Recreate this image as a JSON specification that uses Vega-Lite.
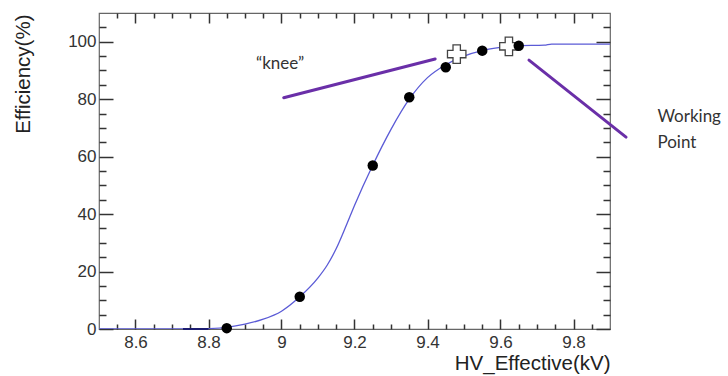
{
  "$schema": "https://vega.github.io/schema/vega-lite/v6.json",
  "width": 511,
  "height": 316,
  "autosize": "none",
  "padding": {"left": 99, "top": 13, "right": 118, "bottom": 47},
  "background": "white",
  "config": {
    "view": {"stroke": "#666", "strokeWidth": 1.2},
    "axis": {
      "grid": false,
      "domain": false,
      "labelFont": "Liberation Sans",
      "labelFontSize": 17,
      "labelColor": "#333",
      "titleFont": "Liberation Sans",
      "titleFontSize": 20.5,
      "titleFontWeight": "normal",
      "titleColor": "#222",
      "ticks": true,
      "tickColor": "#333",
      "tickOpacity": 1,
      "tickWidth": 1.5,
      "zindex": 1
    }
  },
  "datasets": {
    "curve": [
      {"x": 8.5, "y": 0}, {"x": 8.75, "y": 0}, {"x": 8.8, "y": 0.15}, {"x": 8.85, "y": 0.6},
      {"x": 8.9, "y": 1.7}, {"x": 8.95, "y": 3.4}, {"x": 9.0, "y": 6.2}, {"x": 9.05, "y": 11.2},
      {"x": 9.1, "y": 17.8}, {"x": 9.125, "y": 22.2}, {"x": 9.15, "y": 28}, {"x": 9.175, "y": 35.3},
      {"x": 9.2, "y": 43}, {"x": 9.25, "y": 57}, {"x": 9.3, "y": 69.5}, {"x": 9.35, "y": 80},
      {"x": 9.4, "y": 87.5}, {"x": 9.45, "y": 92}, {"x": 9.5, "y": 95}, {"x": 9.55, "y": 96.9},
      {"x": 9.6, "y": 98}, {"x": 9.65, "y": 98.6}, {"x": 9.72, "y": 98.8}, {"x": 9.74, "y": 99.2},
      {"x": 9.9, "y": 99.2}
    ],
    "points": [
      {"x": 8.85, "y": 0.3}, {"x": 9.05, "y": 11.2}, {"x": 9.25, "y": 56.9}, {"x": 9.35, "y": 80.7},
      {"x": 9.45, "y": 91.1}, {"x": 9.55, "y": 96.9}, {"x": 9.65, "y": 98.6}
    ],
    "crosses": [
      {"x": 9.48, "y": 95.7}, {"x": 9.623, "y": 98.4}
    ],
    "errbar": [
      {"x": 8.73, "x2": 8.8, "y": 0}
    ],
    "arrows": [
      {"x": 9.006, "y": 80.5, "x2": 9.421, "y2": 94.0},
      {"x": 9.678, "y": 93.6, "x2": 9.944, "y2": 66.8}
    ],
    "notes": [
      {"x": 8.93, "y": 92.3, "text": "“knee”"},
      {"x": 10.03, "y": 73.7, "text": "Working"},
      {"x": 10.03, "y": 64.7, "text": "Point"}
    ]
  },
  "resolve": {"axis": {"x": "independent", "y": "independent"}},
  "layer": [
    {
      "data": {"name": "curve"},
      "mark": {"type": "line", "color": "#5b5bd6", "strokeWidth": 1.3, "interpolate": "monotone", "clip": true},
      "encoding": {
        "x": {"field": "x", "type": "quantitative", "scale": {"domain": [8.5, 9.9], "nice": false, "zero": false},
          "axis": {"orient": "bottom", "title": "HV_Effective(kV)", "values": [8.6, 8.8, 9.0, 9.2, 9.4, 9.6, 9.8],
            "tickSize": 10, "offset": -10, "labelPadding": 5, "labelFlush": false, "labelExpr": "datum.value == 9 ? '9' : format(datum.value, '.1f')",
            "titleX": 511, "titleY": 44, "titleAlign": "right", "titleBaseline": "middle"}},
        "y": {"field": "y", "type": "quantitative", "scale": {"domain": [0, 110], "nice": false},
          "axis": {"orient": "left", "title": "Efficiency(%)", "values": [0, 20, 40, 60, 80, 100],
            "tickSize": 14, "offset": -14, "labelPadding": 3, "labelFlush": false,
            "titleX": -90, "titleY": 1, "titleAngle": -90, "titleAlign": "right", "titleBaseline": "middle"}}
      }
    },
    {
      "data": {"name": "crosses"},
      "mark": {"type": "point", "shape": "cross", "filled": true, "fill": "white", "stroke": "#444", "strokeWidth": 1.3, "size": 340, "opacity": 1},
      "encoding": {
        "x": {"field": "x", "type": "quantitative",
          "axis": {"orient": "top", "title": null, "labels": false, "values": [8.6, 8.8, 9.0, 9.2, 9.4, 9.6, 9.8], "tickSize": 10, "offset": -10}},
        "y": {"field": "y", "type": "quantitative",
          "axis": {"orient": "right", "title": null, "labels": false, "values": [0, 20, 40, 60, 80, 100], "tickSize": 14, "offset": -14}}
      }
    },
    {
      "data": {"name": "points"},
      "mark": {"type": "circle", "color": "#000", "size": 110, "opacity": 1},
      "encoding": {
        "x": {"field": "x", "type": "quantitative",
          "axis": {"orient": "bottom", "title": null, "labels": false, "tickSize": 5, "offset": -5,
            "values": [8.55, 8.65, 8.7, 8.75, 8.85, 8.9, 8.95, 9.05, 9.1, 9.15, 9.25, 9.3, 9.35, 9.45, 9.5, 9.55, 9.65, 9.7, 9.75, 9.85]}},
        "y": {"field": "y", "type": "quantitative",
          "axis": {"orient": "left", "title": null, "labels": false, "tickSize": 7, "offset": -7,
            "values": [5, 10, 15, 25, 30, 35, 45, 50, 55, 65, 70, 75, 85, 90, 95, 105]}}
      }
    },
    {
      "data": {"name": "errbar"},
      "mark": {"type": "rule", "color": "#1c1c70", "strokeWidth": 2},
      "encoding": {
        "x": {"field": "x", "type": "quantitative",
          "axis": {"orient": "top", "title": null, "labels": false, "tickSize": 5, "offset": -5,
            "values": [8.55, 8.65, 8.7, 8.75, 8.85, 8.9, 8.95, 9.05, 9.1, 9.15, 9.25, 9.3, 9.35, 9.45, 9.5, 9.55, 9.65, 9.7, 9.75, 9.85]}},
        "x2": {"field": "x2"},
        "y": {"field": "y", "type": "quantitative",
          "axis": {"orient": "right", "title": null, "labels": false, "tickSize": 7, "offset": -7,
            "values": [5, 10, 15, 25, 30, 35, 45, 50, 55, 65, 70, 75, 85, 90, 95, 105]}}
      }
    },
    {
      "data": {"name": "arrows"},
      "mark": {"type": "rule", "color": "#6a2fa8", "strokeWidth": 3, "strokeCap": "round", "clip": false},
      "encoding": {
        "x": {"field": "x", "type": "quantitative", "axis": null},
        "y": {"field": "y", "type": "quantitative", "axis": null},
        "x2": {"field": "x2"},
        "y2": {"field": "y2"}
      }
    },
    {
      "data": {"name": "notes"},
      "mark": {"type": "text", "font": "Lato", "fontSize": 17, "color": "#333", "align": "left", "baseline": "middle", "clip": false},
      "encoding": {
        "x": {"field": "x", "type": "quantitative", "axis": null},
        "y": {"field": "y", "type": "quantitative", "axis": null},
        "text": {"field": "text"}
      }
    }
  ]
}
